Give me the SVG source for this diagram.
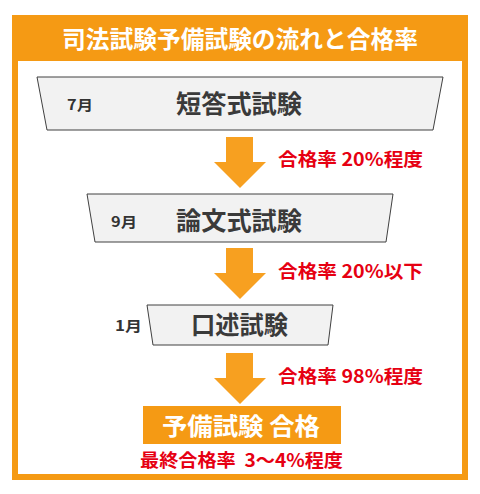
<svg xmlns="http://www.w3.org/2000/svg" width="480" height="494" viewBox="0 0 480 494">
<defs>
<style>
.trap{fill:#f2f2f2;stroke:#404040;stroke-width:1}
.arrow{fill:#f7a020}
.jp{font-family:"Noto Sans CJK JP","Noto Sans",sans-serif;font-weight:bold}
.month{font-size:14px;fill:#333}
.stage{font-size:25px;fill:#3a3a3a}
.rate{font-size:18px;fill:#e60012}
.white{fill:#fff}
</style>
</defs>
<rect width="480" height="494" fill="#fff"/>
<g id="frame">
<rect x="15" y="18" width="450" height="459" fill="#fff" stroke="#f59a14" stroke-width="6"/>
<rect x="12" y="15" width="456" height="46" fill="#f59a14"/>
<text class="jp white" x="62" y="48" font-size="23.5" textLength="356" lengthAdjust="spacingAndGlyphs">司法試験予備試験の流れと合格率</text>
</g>
<g id="stage1">
<polygon class="trap" points="37,77 443,77 433,130 47,130"/>
<text class="jp month" x="67" y="110" textLength="26" lengthAdjust="spacingAndGlyphs">7月</text>
<text class="jp stage" x="176" y="113" textLength="126" lengthAdjust="spacingAndGlyphs">短答式試験</text>
</g>
<g id="stage2">
<polygon class="trap" points="87,194 393,194 386,242 95,242"/>
<text class="jp month" x="111" y="227" textLength="26" lengthAdjust="spacingAndGlyphs">9月</text>
<text class="jp stage" x="176" y="230" textLength="126" lengthAdjust="spacingAndGlyphs">論文式試験</text>
</g>
<g id="stage3">
<polygon class="trap" points="147,305 333,305 328,345 153,345"/>
<text class="jp month" x="115" y="331" textLength="27" lengthAdjust="spacingAndGlyphs">1月</text>
<text class="jp stage" x="191" y="334" textLength="97" lengthAdjust="spacingAndGlyphs">口述試験</text>
</g>
<g id="result">
<rect x="143" y="406" width="198" height="38" fill="#f59a14"/>
<text class="jp white" x="162" y="435" font-size="24" textLength="158" lengthAdjust="spacingAndGlyphs">予備試験 合格</text>
<text class="jp rate" x="140" y="467" textLength="203" lengthAdjust="spacingAndGlyphs" xml:space="preserve">最終合格率  3～4%程度</text>
</g>
<g id="connectors">
<polygon class="arrow" points="226,137 253,137 253,162 266,162 240,188 214,162 226,162"/>
<polygon class="arrow" points="226,248 253,248 253,273 266,273 240,299 214,273 226,273"/>
<polygon class="arrow" points="226,353 253,353 253,378 266,378 240,404 214,378 226,378"/>
<text class="jp rate" x="278" y="166" textLength="145" lengthAdjust="spacingAndGlyphs">合格率 20%程度</text>
<text class="jp rate" x="278" y="278" textLength="145" lengthAdjust="spacingAndGlyphs">合格率 20%以下</text>
<text class="jp rate" x="278" y="383" textLength="145" lengthAdjust="spacingAndGlyphs">合格率 98%程度</text>
</g>
</svg>
